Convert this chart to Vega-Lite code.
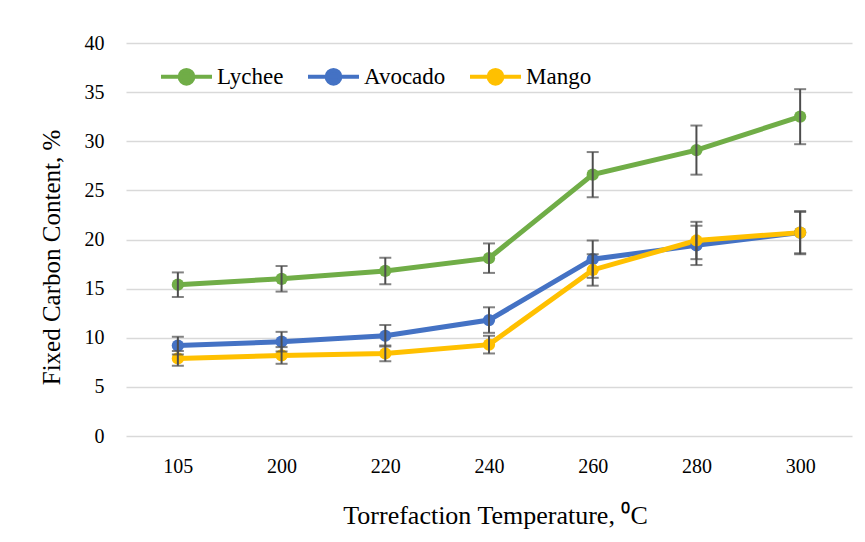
{
  "$schema": "https://vega.github.io/schema/vega-lite/v6.json",
  "width": 726,
  "height": 393,
  "autosize": "none",
  "padding": {"left": 126, "top": 43, "right": 13, "bottom": 106},
  "background": "white",
  "config": {
    "view": {"stroke": null},
    "font": "Liberation Serif"
  },
  "data": {
    "values": [
      {"series": "Lychee", "temp": "105", "value": 15.4, "err": 1.25},
      {"series": "Lychee", "temp": "200", "value": 16.0, "err": 1.3},
      {"series": "Lychee", "temp": "220", "value": 16.8, "err": 1.35},
      {"series": "Lychee", "temp": "240", "value": 18.1, "err": 1.5},
      {"series": "Lychee", "temp": "260", "value": 26.6, "err": 2.3},
      {"series": "Lychee", "temp": "280", "value": 29.1, "err": 2.5},
      {"series": "Lychee", "temp": "300", "value": 32.5, "err": 2.8},
      {"series": "Avocado", "temp": "105", "value": 9.2, "err": 0.9},
      {"series": "Avocado", "temp": "200", "value": 9.6, "err": 1.0},
      {"series": "Avocado", "temp": "220", "value": 10.2, "err": 1.1},
      {"series": "Avocado", "temp": "240", "value": 11.8, "err": 1.3},
      {"series": "Avocado", "temp": "260", "value": 18.0, "err": 1.9},
      {"series": "Avocado", "temp": "280", "value": 19.4, "err": 2.0},
      {"series": "Avocado", "temp": "300", "value": 20.7, "err": 2.2},
      {"series": "Mango", "temp": "105", "value": 7.9, "err": 0.75},
      {"series": "Mango", "temp": "200", "value": 8.2, "err": 0.85},
      {"series": "Mango", "temp": "220", "value": 8.4, "err": 0.8},
      {"series": "Mango", "temp": "240", "value": 9.3, "err": 0.9},
      {"series": "Mango", "temp": "260", "value": 16.9, "err": 1.6},
      {"series": "Mango", "temp": "280", "value": 19.9, "err": 1.9},
      {"series": "Mango", "temp": "300", "value": 20.7, "err": 2.1}
    ]
  },
  "encoding": {
    "x": {
      "field": "temp",
      "type": "ordinal",
      "sort": ["105", "200", "220", "240", "260", "280", "300"],
      "scale": {"type": "point", "padding": 0.5},
      "axis": {
        "title": "Torrefaction Temperature, ⁰C",
        "titleFont": "Liberation Serif",
        "titleFontSize": 26,
        "titleFontWeight": "normal",
        "titleColor": "#000000",
        "titlePadding": 26,
        "titleX": 369,
        "labelFont": "Liberation Serif",
        "labelFontSize": 20,
        "labelColor": "#000000",
        "labelAngle": 0,
        "labelPadding": 20,
        "domain": false,
        "ticks": false,
        "grid": false
      }
    },
    "y": {
      "field": "value",
      "type": "quantitative",
      "scale": {"domain": [0, 40], "nice": false},
      "axis": {
        "title": "Fixed Carbon Content, %",
        "titleFont": "Liberation Serif",
        "titleFontSize": 25,
        "titleFontWeight": "normal",
        "titleColor": "#000000",
        "titlePadding": 20,
        "titleY": 214,
        "labelFont": "Liberation Serif",
        "labelFontSize": 20,
        "labelColor": "#000000",
        "labelPadding": 22,
        "values": [0, 5, 10, 15, 20, 25, 30, 35, 40],
        "domain": false,
        "ticks": false,
        "grid": true,
        "gridColor": "#D9D9D9",
        "gridWidth": 1.5
      }
    }
  },
  "layer": [
    {
      "mark": {"type": "line", "strokeWidth": 5},
      "encoding": {
        "color": {
          "field": "series",
          "type": "nominal",
          "scale": {"domain": ["Lychee", "Avocado", "Mango"], "range": ["#70AD47", "#4472C4", "#FFC000"]},
          "legend": {
            "orient": "none",
            "legendX": 33,
            "legendY": 6,
            "direction": "horizontal",
            "title": null,
            "symbolType": "M-1,0H1M-0.27,0A0.27,0.27 0 1,0 0.27,0A0.27,0.27 0 1,0 -0.27,0",
            "symbolSize": 2600,
            "symbolStrokeWidth": 4,
            "labelFont": "Liberation Serif",
            "labelFontSize": 23,
            "labelColor": "#000000",
            "labelOffset": 3,
            "columnPadding": 16,
            "encode": {
              "symbols": {
                "update": {
                  "fill": {"scale": "color", "field": "value"},
                  "stroke": {"scale": "color", "field": "value"},
                  "opacity": {"value": 1}
                }
              }
            }
          }
        }
      }
    },
    {
      "mark": {"type": "circle", "size": 150, "opacity": 1},
      "encoding": {
        "color": {"field": "series", "type": "nominal", "legend": null}
      }
    },
    {
      "mark": {
        "type": "errorbar",
        "ticks": {"size": 12, "thickness": 2, "color": "#4D4D4D"},
        "rule": {"strokeWidth": 2, "color": "#4D4D4D"},
        "color": "#4D4D4D"
      },
      "encoding": {
        "yError": {"field": "err"},
        "detail": {"field": "series", "type": "nominal"}
      }
    }
  ]
}
